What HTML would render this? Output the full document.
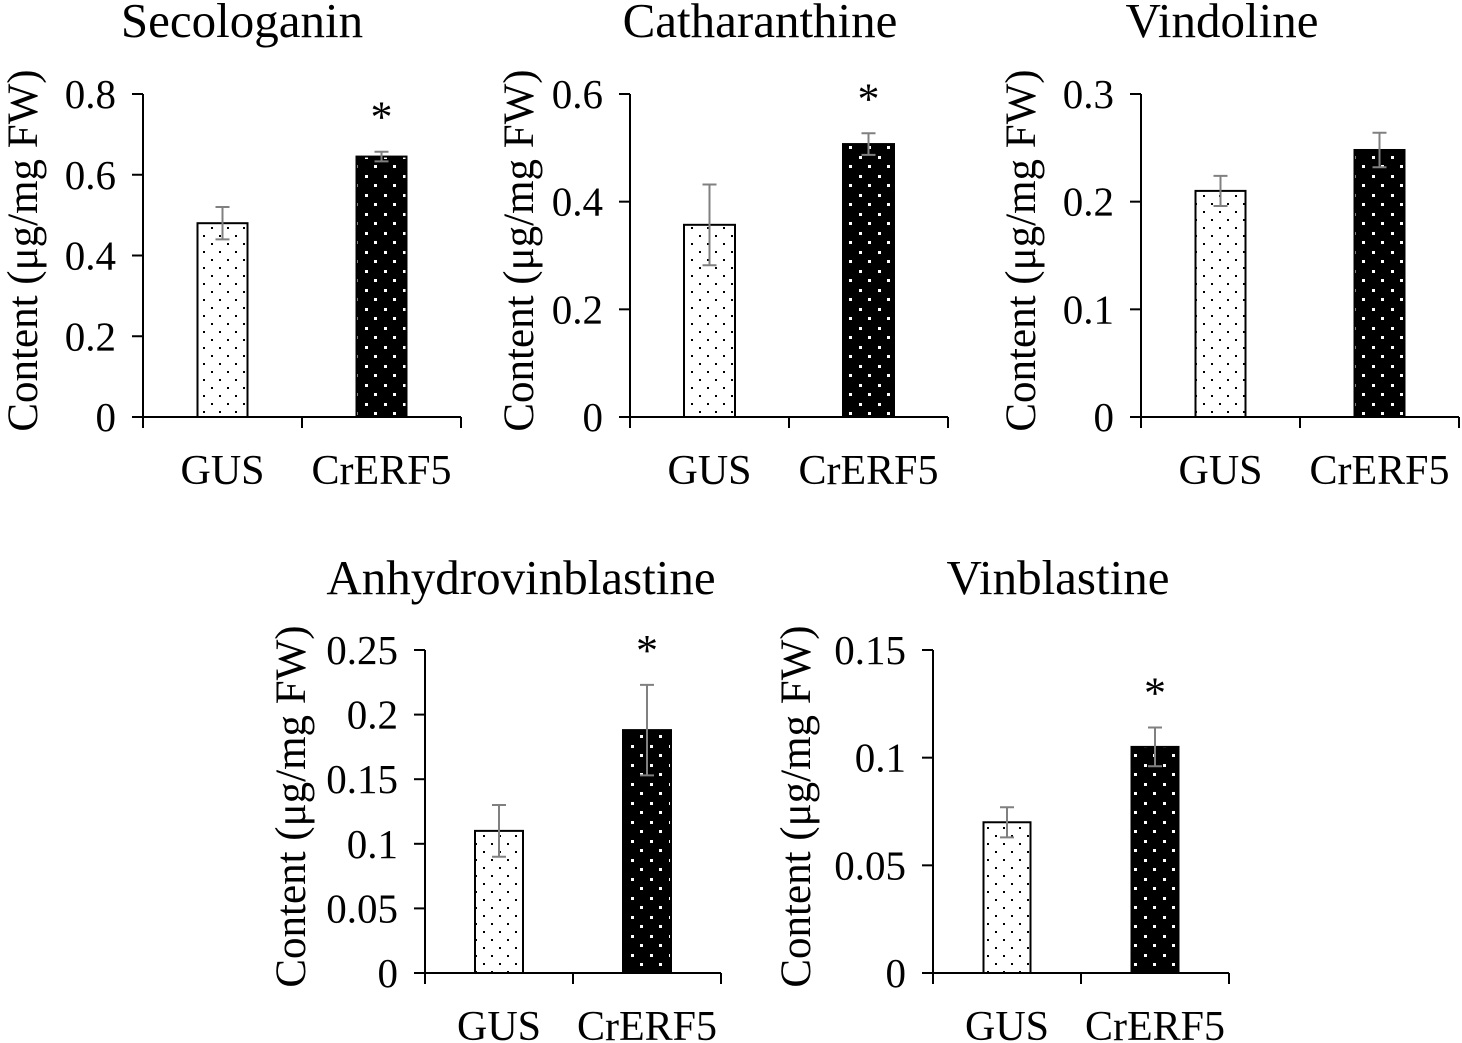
<!DOCTYPE html>
<html><head><meta charset="utf-8">
<style>
html,body{margin:0;padding:0;background:#fff;}
svg{display:block;font-family:"Liberation Serif",serif;}
</style></head>
<body>
<svg id="chart" width="1462" height="1043" viewBox="0 0 1462 1043">
<defs>
<pattern id="dotsW" width="16" height="16" patternUnits="userSpaceOnUse">
<rect width="16" height="16" fill="#fff"/>
<rect x="3" y="3" width="2" height="2" fill="#000"/>
<rect x="11" y="11" width="2" height="2" fill="#000"/>
</pattern>
<pattern id="dotsB" width="19" height="19" patternUnits="userSpaceOnUse">
<rect width="19" height="19" fill="#000"/>
<rect x="4" y="4" width="3" height="3" fill="#fff"/>
<rect x="13" y="13" width="3" height="3" fill="#fff"/>
</pattern>
</defs>
</svg>
<script>
const titles = ["Secologanin","Catharanthine","Vindoline","Anhydrovinblastine","Vinblastine"];
const categories = ["GUS","CrERF5"];
const gusValues = [0.48, 0.357, 0.21, 0.11, 0.07];
const gusErrors = [0.04, 0.075, 0.014, 0.02, 0.007];
const erfValues = [0.645, 0.507, 0.248, 0.188, 0.105];
const erfErrors = [0.012, 0.02, 0.016, 0.035, 0.009];
const significant = [true, true, false, true, true];
const yMax = [0.8, 0.6, 0.3, 0.25, 0.15];
const yTickLabels = [["0","0.2","0.4","0.6","0.8"],["0","0.2","0.4","0.6"],["0","0.1","0.2","0.3"],["0","0.05","0.1","0.15","0.2","0.25"],["0","0.05","0.1","0.15"]];

const layout = [
 {ax:143, top:94, bot:417, cw:159, bw:50, yt:22, tx:242, ty:37},
 {ax:630, top:94, bot:417, cw:159, bw:51, yt:518, tx:760, ty:37},
 {ax:1141, top:94, bot:417, cw:159, bw:50, yt:1020, tx:1222, ty:37},
 {ax:425, top:650, bot:973, cw:148, bw:48, yt:290, tx:521, ty:594},
 {ax:933, top:650, bot:973, cw:148, bw:47, yt:795, tx:1058, ty:594}
];
const svg = document.getElementById('chart');
const NS = 'http://www.w3.org/2000/svg';
function mk(tag, attrs, parent){const e=document.createElementNS(NS,tag);for(const k in attrs)e.setAttribute(k,attrs[k]);(parent||svg).appendChild(e);return e;}

layout.forEach((L,i)=>{
  const g = mk('g',{});
  
  
  const y = v => L.bot - v / yMax[i] * (L.bot - L.top);
  const xc = k => L.ax + L.cw * (k + 0.5);
  const t = mk('text',{x:L.tx, y:L.ty, 'font-size':49, 'text-anchor':'middle'}, g);
  t.textContent = titles[i];
  
  
  const yt = mk('text',{x:0,y:0,'font-size':43,'text-anchor':'middle',transform:`translate(${L.yt+15},${(L.top+L.bot)/2-5}) rotate(-90)`}, g);
  yt.textContent = 'Content (μg/mg FW)';
  
  
  mk('line',{x1:L.ax,y1:L.top,x2:L.ax,y2:L.bot,stroke:'#000','stroke-width':2},g);
  yTickLabels[i].forEach(lbl=>{
    const v = parseFloat(lbl), yy = y(v);
    mk('line',{x1:L.ax-11,y1:yy,x2:L.ax,y2:yy,stroke:'#000','stroke-width':2},g);
    const tl = mk('text',{x:L.ax-27,y:yy+14,'font-size':41,'text-anchor':'end'},g);
    tl.textContent = lbl;
    
    
  });
  mk('line',{x1:L.ax-11,y1:L.bot,x2:L.ax+2*L.cw,y2:L.bot,stroke:'#000','stroke-width':2},g);
  for(let k=0;k<=2;k++) mk('line',{x1:L.ax+k*L.cw,y1:L.bot,x2:L.ax+k*L.cw,y2:L.bot+11,stroke:'#000','stroke-width':2},g);
  const vals=[gusValues[i],erfValues[i]], errs=[gusErrors[i],erfErrors[i]];
  vals.forEach((v,k)=>{
    const b = mk('rect',{x:xc(k)-L.bw/2,y:y(v),width:L.bw,height:L.bot-y(v),fill:k?'url(#dotsB)':'url(#dotsW)',stroke:'#000','stroke-width':2},g);
    
    
    const hi=y(v+errs[k]), lo=y(v-errs[k]);
    const eb = mk('path',{d:`M${xc(k)} ${hi}V${lo}M${xc(k)-7} ${hi}H${xc(k)+7}M${xc(k)-7} ${lo}H${xc(k)+7}`,stroke:'#808080','stroke-width':2,fill:'none'},g);
    
    
    const cl = mk('text',{x:xc(k),y:L.bot+67,'font-size':42,'text-anchor':'middle'},g);
    cl.textContent = categories[k];
    
    
    if(k===1 && significant[i]){
      const s = mk('text',{x:xc(k),y:hi-20,'font-size':44,'text-anchor':'middle'},g);
      s.textContent='*';
      
      
    }
  });
});
</script>
</body></html>
